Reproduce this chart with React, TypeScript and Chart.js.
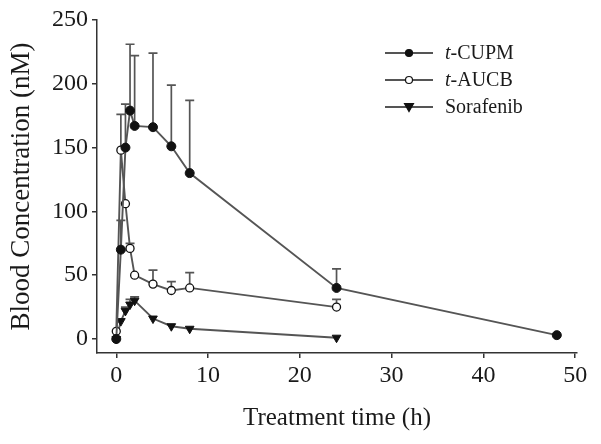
import React, { useEffect, useRef } from "react";
import { Chart, registerables } from "chart.js";
Chart.register(...registerables);

const cupmTime = [0, 0.5, 1, 1.5, 2, 4, 6, 8, 24, 48];
const cupmValue = [0, 70, 150, 179, 167, 166, 151, 130, 40, 3];
const cupmError = [0, 23, 34, 52, 55, 58, 48, 57, 15, 0];

const aucbTime = [0, 0.5, 1, 1.5, 2, 4, 6, 8, 24];
const aucbValue = [6, 148, 106, 71, 50, 43, 38, 40, 25];
const aucbError = [0, 28, 0, 4, 0, 11, 7, 12, 6];

const soraTime = [0, 0.5, 1, 1.5, 2, 4, 6, 8, 24];
const soraValue = [0, 14, 22, 27, 30, 16, 10, 8, 1];
const soraError = [0, 0, 3, 4, 3, 0, 0, 0, 0];

const xTicks = [0, 10, 20, 30, 40, 50];
const yTicks = [0, 50, 100, 150, 200, 250];

const legendItems = [
  { italic: "t", rest: "-CUPM", style: "circle", fill: "#111" },
  { italic: "t", rest: "-AUCB", style: "circle", fill: "#fff" },
  { italic: "", rest: "Sorafenib", style: "triangle", fill: "#111" },
];

const errorSets = [cupmError, aucbError, soraError];
const FONT = "'Liberation Serif', 'Times New Roman', serif";

const errorBarPlugin = {
  id: "errorBars",
  beforeDatasetsDraw(chart: any) {
    const { ctx } = chart;
    const xs = chart.scales.x;
    const ys = chart.scales.y;
    ctx.save();
    ctx.strokeStyle = "#555";
    ctx.lineWidth = 1.7;
    chart.data.datasets.forEach((ds: any, i: number) => {
      const errs = errorSets[i];
      ds.data.forEach((p: any, j: number) => {
        const e = errs[j];
        if (!e) return;
        const px = xs.getPixelForValue(p.x);
        const py = ys.getPixelForValue(p.y);
        const pt = ys.getPixelForValue(p.y + e);
        ctx.beginPath();
        ctx.moveTo(px, py);
        ctx.lineTo(px, pt);
        ctx.moveTo(px - 4.5, pt);
        ctx.lineTo(px + 4.5, pt);
        ctx.stroke();
      });
    });
    ctx.restore();
  },
};

const legendPlugin = {
  id: "customLegend",
  afterDraw(chart: any) {
    const { ctx } = chart;
    ctx.save();
    const x0 = 385;
    const x1 = 433;
    const xm = 409;
    const tx = 445;
    const rows = [53, 80, 107];
    legendItems.forEach((it, i) => {
      const y = rows[i];
      ctx.strokeStyle = "#555";
      ctx.lineWidth = 1.9;
      ctx.beginPath();
      ctx.moveTo(x0, y);
      ctx.lineTo(x1, y);
      ctx.stroke();
      ctx.fillStyle = it.fill;
      ctx.strokeStyle = "#111";
      ctx.lineWidth = 1.2;
      ctx.beginPath();
      if (it.style === "circle") {
        ctx.arc(xm, y, 3.5, 0, Math.PI * 2);
      } else {
        ctx.moveTo(xm - 4.5, y - 3.5);
        ctx.lineTo(xm + 4.5, y - 3.5);
        ctx.lineTo(xm, y + 4.5);
        ctx.closePath();
      }
      ctx.fill();
      ctx.stroke();
      ctx.fillStyle = "#1a1a1a";
      ctx.textBaseline = "middle";
      ctx.textAlign = "left";
      let cx = tx;
      if (it.italic) {
        ctx.font = `italic 20px ${FONT}`;
        ctx.fillText(it.italic, cx, y + 1);
        cx += ctx.measureText(it.italic).width;
      }
      ctx.font = `20px ${FONT}`;
      ctx.fillText(it.rest, cx, y + 1);
    });
    ctx.restore();
  },
};

export default function App() {
  const ref = useRef<HTMLCanvasElement | null>(null);
  useEffect(() => {
    document.body.style.margin = "0";
    const canvas = ref.current;
    if (!canvas) return;
    const lineColor = "#555";
    const chart = new Chart(canvas, {
      type: "line",
      data: {
        datasets: [
          {
            label: "t-CUPM",
            data: cupmTime.map((t, i) => ({ x: t, y: cupmValue[i] })),
            borderColor: lineColor,
            borderWidth: 1.9,
            pointStyle: "circle",
            pointRadius: 4.5,
            pointBackgroundColor: "#111",
            pointBorderColor: "#111",
            pointBorderWidth: 1,
          },
          {
            label: "t-AUCB",
            data: aucbTime.map((t, i) => ({ x: t, y: aucbValue[i] })),
            borderColor: lineColor,
            borderWidth: 1.9,
            pointStyle: "circle",
            pointRadius: 4,
            pointBackgroundColor: "#fff",
            pointBorderColor: "#111",
            pointBorderWidth: 1.3,
          },
          {
            label: "Sorafenib",
            data: soraTime.map((t, i) => ({ x: t, y: soraValue[i] })),
            borderColor: lineColor,
            borderWidth: 1.9,
            pointStyle: "triangle",
            pointRotation: 180,
            pointRadius: 5,
            pointBackgroundColor: "#111",
            pointBorderColor: "#111",
            pointBorderWidth: 1,
          },
        ],
      },
      options: {
        responsive: false,
        animation: false,
        parsing: false as any,
        layout: { padding: { top: 20, right: 24, left: 0, bottom: 0 } },
        plugins: { legend: { display: false }, tooltip: { enabled: false } },
        scales: {
          x: {
            type: "linear",
            min: -2.1,
            max: 50.2,
            afterBuildTicks: (s: any) => {
              s.ticks = xTicks.map((v) => ({ value: v }));
            },
            afterFit: (s: any) => {
              s.height = 91;
            },
            ticks: {
              font: { family: FONT, size: 24 },
              color: "#1a1a1a",
              padding: 3,
              maxRotation: 0,
              autoSkip: false,
            },
            grid: {
              display: true,
              drawOnChartArea: false,
              drawTicks: true,
              tickLength: 5,
              color: "#333",
              lineWidth: 1.5,
            },
            border: { display: true, color: "#333", width: 1.5 },
            title: {
              display: true,
              text: "Treatment time (h)",
              font: { family: FONT, size: 25 },
              color: "#1a1a1a",
              padding: { top: 0, bottom: 11 },
            },
          },
          y: {
            type: "linear",
            min: -11,
            max: 250,
            afterBuildTicks: (s: any) => {
              s.ticks = yTicks.map((v) => ({ value: v }));
            },
            afterFit: (s: any) => {
              s.width = 97;
            },
            ticks: {
              font: { family: FONT, size: 24 },
              color: "#1a1a1a",
              padding: 4,
              autoSkip: false,
            },
            grid: {
              display: true,
              drawOnChartArea: false,
              drawTicks: true,
              tickLength: 5,
              color: "#333",
              lineWidth: 1.5,
            },
            border: { display: true, color: "#333", width: 1.5 },
            title: {
              display: true,
              text: "Blood Concentration (nM)",
              font: { family: FONT, size: 27 },
              color: "#1a1a1a",
              padding: { top: 6, bottom: 0 },
            },
          },
        },
      },
      plugins: [errorBarPlugin, legendPlugin],
    });
    return () => chart.destroy();
  }, []);
  return (
    <div style={{ width: 601, height: 444, background: "#fff" }}>
      <canvas ref={ref} width={601} height={444} />
    </div>
  );
}
